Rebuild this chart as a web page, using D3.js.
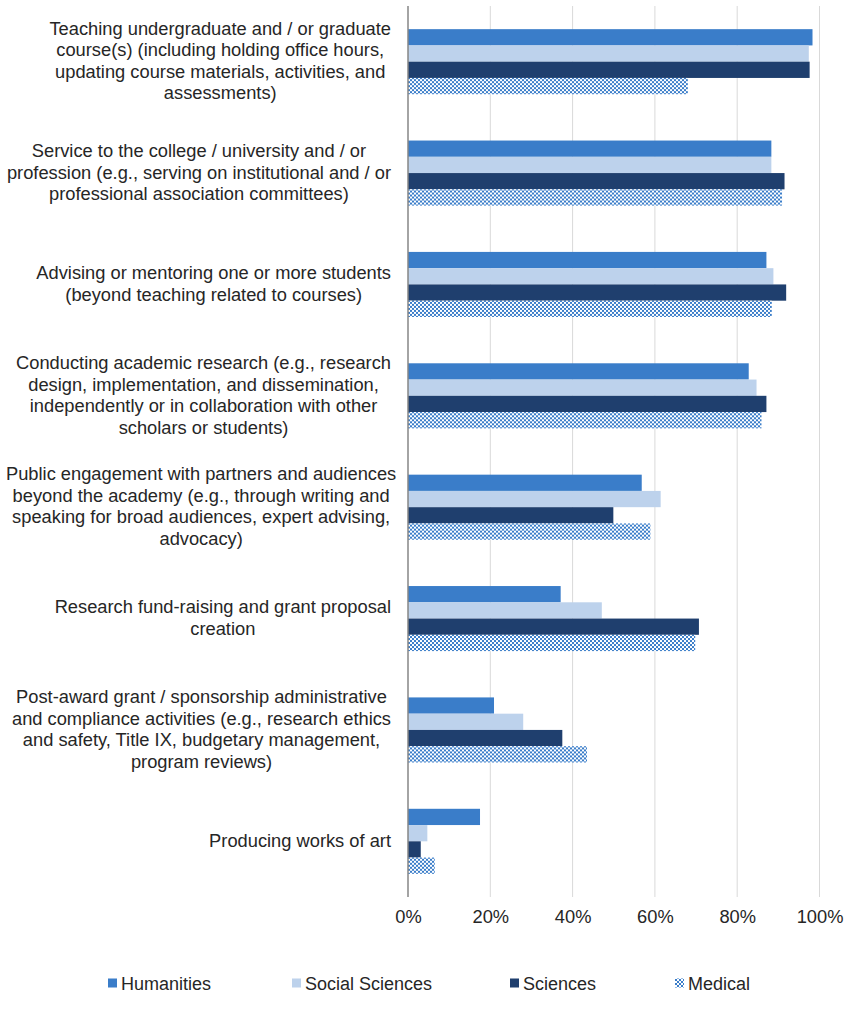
<!DOCTYPE html>
<html><head><meta charset="utf-8">
<script src="https://cdn.jsdelivr.net/npm/d3@7"></script>
<style>body{margin:0;background:#fff;} svg{display:block;font-family:"Liberation Sans",Arial,sans-serif;}</style>
</head><body>
<script>
const categories = [
  "Teaching undergraduate and / or graduate\ncourse(s) (including holding office hours,\nupdating course materials, activities, and\nassessments)",
  "Service to the college / university and / or\nprofession (e.g., serving on institutional and / or\nprofessional association committees)",
  "Advising or mentoring one or more students\n(beyond teaching related to courses)",
  "Conducting academic research (e.g., research\ndesign, implementation, and dissemination,\nindependently or in collaboration with other\nscholars or students)",
  "Public engagement with partners and audiences\nbeyond the academy (e.g., through writing and\nspeaking for broad audiences, expert advising,\nadvocacy)",
  "Research fund-raising and grant proposal\ncreation",
  "Post-award grant / sponsorship administrative\nand compliance activities (e.g., research ethics\nand safety, Title IX, budgetary management,\nprogram reviews)",
  "Producing works of art"
];
const seriesNames = ["Humanities", "Social Sciences", "Sciences", "Medical"];
const humanities     = [0.983, 0.883, 0.871, 0.828, 0.568, 0.371, 0.209, 0.175];
const socialSciences = [0.974, 0.883, 0.888, 0.847, 0.614, 0.471, 0.280, 0.047];
const sciences       = [0.976, 0.915, 0.919, 0.871, 0.499, 0.707, 0.375, 0.031];
const medical        = [0.680, 0.909, 0.884, 0.859, 0.589, 0.698, 0.435, 0.065];
const seriesValues = [humanities, socialSciences, sciences, medical];
const tickValues = [0, 0.2, 0.4, 0.6, 0.8, 1.0];

const W = 854, H = 1024;
const colors = ["#3A7DC9", "#BDD2EC", "#1F3F6E", "url(#checker)"];
const svg = d3.select("body").append("svg").attr("width", W).attr("height", H);

const defs = svg.append("defs");
const pat = defs.append("pattern").attr("id", "checker").attr("patternUnits", "userSpaceOnUse")
  .attr("width", 4).attr("height", 4);
pat.append("rect").attr("width", 4).attr("height", 4).attr("fill", "#ffffff");
pat.append("rect").attr("x", 0).attr("y", 0).attr("width", 2).attr("height", 2).attr("fill", "#3A7DC9");
pat.append("rect").attr("x", 2).attr("y", 2).attr("width", 2).attr("height", 2).attr("fill", "#3A7DC9");

const x = d3.scaleLinear().domain([0, 1]).range([408, 819.5]);
const y = d3.scaleBand().domain(d3.range(categories.length)).range([6, 897]).paddingInner(0.416).paddingOuter(0.208);
const ySub = d3.scaleBand().domain(d3.range(seriesNames.length)).range([0, y.bandwidth()]);

// gridlines
svg.append("g").selectAll("line").data(tickValues.slice(1)).join("line")
  .attr("x1", d => x(d)).attr("x2", d => x(d)).attr("y1", 6).attr("y2", 897)
  .attr("stroke", "#D9D9D9").attr("stroke-width", 1);

// bars
const groups = svg.append("g").selectAll("g").data(categories).join("g")
  .attr("transform", (d, i) => `translate(0,${y(i)})`);
groups.each(function(c, i) {
  d3.select(this).selectAll("rect").data(seriesValues.map((s, k) => ({k, v: s[i]}))).join("rect")
    .attr("x", x(0)).attr("y", d => ySub(d.k)).attr("width", d => x(d.v) - x(0))
    .attr("height", ySub.bandwidth()).attr("fill", d => colors[d.k]);
});

// axis line
svg.append("line").attr("x1", x(0)).attr("x2", x(0)).attr("y1", 6).attr("y2", 897)
  .attr("stroke", "#868686").attr("stroke-width", 1.5);

// x tick labels
const xAxis = svg.append("g").attr("transform", "translate(0,897)")
  .call(d3.axisBottom(x).tickValues(tickValues).tickFormat(d3.format(".0%")).tickSize(0).tickPadding(13));
xAxis.select(".domain").remove();
xAxis.selectAll("text").attr("font-size", 18.3).attr("fill", "#262626").attr("font-family", "Liberation Sans, Arial, sans-serif");

// category labels: block right-aligned near axis, lines centred within block
const lh = 21.5;
const rightEdge = 391, minLeft = 6;
svg.append("g").selectAll("text").data(categories).join("text")
  .attr("text-anchor", "middle").attr("font-size", 18.3).attr("fill", "#262626")
  .each(function(c, i) {
    const lines = c.split("\n");
    const cy = y(i) + y.bandwidth() / 2;
    const y0 = cy - (lines.length - 1) * lh / 2 + 5.5;
    const t = d3.select(this);
    const spans = t.selectAll("tspan").data(lines).join("tspan")
      .attr("x", 0).attr("y", (d, j) => y0 + j * lh).text(d => d);
    let maxW = 0;
    spans.each(function() { maxW = Math.max(maxW, this.getComputedTextLength()); });
    let cx = rightEdge - maxW / 2;
    if (cx - maxW / 2 < minLeft) cx = minLeft + maxW / 2;
    spans.attr("x", cx);
  });

// legend
const legendX = [108, 292, 510, 675];
const leg = svg.append("g").selectAll("g").data(seriesNames).join("g")
  .attr("transform", (d, i) => `translate(${legendX[i]},983)`);
leg.append("rect").attr("x", 0).attr("y", -4.5).attr("width", 9).attr("height", 9)
  .attr("fill", (d, i) => colors[i]);
leg.append("text").attr("x", 13).attr("y", 6.5).attr("font-size", 18).attr("fill", "#262626").text(d => d);
</script>
</body></html>
